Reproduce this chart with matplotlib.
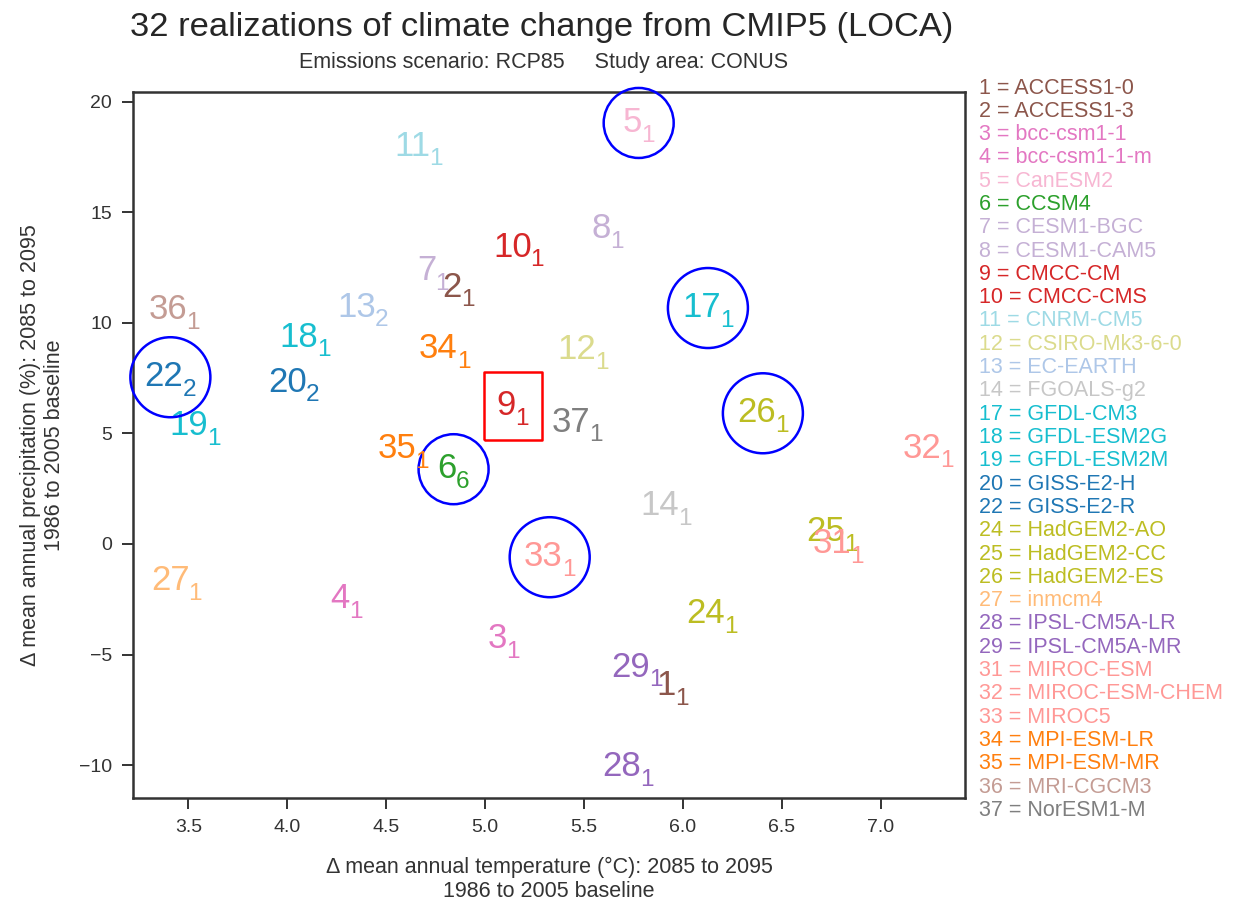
import matplotlib
matplotlib.use("Agg")
import matplotlib.pyplot as plt

plt.rcParams['font.family'] = ['Liberation Sans', 'DejaVu Sans']

# ---- data ----
model_ids = [1, 2, 3, 4, 5, 6, 7, 8, 9, 10, 11, 12, 13, 14, 17, 18, 19, 20, 22,
             24, 25, 26, 27, 28, 29, 31, 32, 33, 34, 35, 36, 37]
model_names = ["ACCESS1-0", "ACCESS1-3", "bcc-csm1-1", "bcc-csm1-1-m", "CanESM2",
               "CCSM4", "CESM1-BGC", "CESM1-CAM5", "CMCC-CM", "CMCC-CMS",
               "CNRM-CM5", "CSIRO-Mk3-6-0", "EC-EARTH", "FGOALS-g2", "GFDL-CM3",
               "GFDL-ESM2G", "GFDL-ESM2M", "GISS-E2-H", "GISS-E2-R", "HadGEM2-AO",
               "HadGEM2-CC", "HadGEM2-ES", "inmcm4", "IPSL-CM5A-LR", "IPSL-CM5A-MR",
               "MIROC-ESM", "MIROC-ESM-CHEM", "MIROC5", "MPI-ESM-LR", "MPI-ESM-MR",
               "MRI-CGCM3", "NorESM1-M"]
realization = [1, 1, 1, 1, 1, 6, 1, 1, 1, 1, 1, 1, 2, 1, 1, 1, 1, 2, 2,
               1, 1, 1, 1, 1, 1, 1, 1, 1, 1, 1, 1, 1]
delta_temp = [5.949, 4.866, 5.094, 4.300, 5.777, 4.841, 4.737, 5.620, 5.140, 5.170,
              4.659, 5.494, 4.383, 5.914, 6.127, 4.092, 3.535, 4.034, 3.409,
              6.149, 6.754, 6.405, 3.439, 5.724, 5.770, 6.787, 7.242, 5.327,
              4.796, 4.586, 3.429, 5.464]
delta_precip = [-6.44, 11.59, -4.31, -2.50, 19.04, 3.38, 12.34, 14.24, 6.23, 13.40,
                17.97, 8.76, 10.69, 1.71, 10.67, 9.33, 5.33, 7.29, 7.54,
                -3.18, 0.53, 5.91, -1.69, -10.10, -5.60, -0.01, 4.31, -0.60,
                8.81, 4.29, 10.57, 5.48]
colors = ["#8c564b", "#8c564b", "#e377c2", "#e377c2", "#f7b6d2", "#2ca02c",
          "#c5b0d5", "#c5b0d5", "#d62728", "#d62728", "#9edae5", "#dbdb8d",
          "#aec7e8", "#c7c7c7", "#17becf", "#17becf", "#17becf", "#1f77b4",
          "#1f77b4", "#bcbd22", "#bcbd22", "#bcbd22", "#ffbb78", "#9467bd",
          "#9467bd", "#ff9896", "#ff9896", "#ff9896", "#ff7f0e", "#ff7f0e",
          "#c49c94", "#7f7f7f"]
circled = [5, 6, 17, 22, 26, 33]
boxed = [9]

x_ticks = [3.5, 4.0, 4.5, 5.0, 5.5, 6.0, 6.5, 7.0]
y_ticks = [-10, -5, 0, 5, 10, 15, 20]

title = "32 realizations of climate change from CMIP5 (LOCA)"
subtitle = "Emissions scenario: RCP85     Study area: CONUS"
xlabel = "\u0394 mean annual temperature (\u00b0C): 2085 to 2095\n1986 to 2005 baseline"
ylabel = "\u0394 mean annual precipitation (%): 2085 to 2095\n1986 to 2005 baseline"

# ---- figure ----
W, H = 1233, 905
fig = plt.figure(figsize=(W / 100, H / 100), dpi=100)
ax = fig.add_axes([133 / W, 1 - 798 / H, (965 - 133) / W, (798 - 92) / H])

txtcol = "#333333"
FS_MAIN = 25.0
FS_SUB = 17.6
DIGIT = 0.556          # advance of a digit, in em
GAP = -0.8             # points between number and subscript
CAP = 0.716 * FS_MAIN  # cap height of main number, points
DROP = 7.0             # subscript baseline drop, points
base_dy = -(CAP - DROP) / 2.0 - 1.0

for mid, t, p, c, r in zip(model_ids, delta_temp, delta_precip, colors, realization):
    m, s = str(mid), str(r)
    wm = len(m) * DIGIT * FS_MAIN
    ws = len(s) * DIGIT * FS_SUB
    d = (wm - ws - GAP) / 2.0
    ax.annotate(m, xy=(t, p), xycoords='data', xytext=(d, base_dy),
                textcoords='offset points', ha='right', va='baseline',
                color=c, fontsize=FS_MAIN, annotation_clip=False)
    ax.annotate(s, xy=(t, p), xycoords='data', xytext=(d + GAP, base_dy - DROP),
                textcoords='offset points', ha='left', va='baseline',
                color=c, fontsize=FS_SUB, annotation_clip=False)
    if mid in circled:
        diam = (50 + 10 * len(m + s)) * 0.72
        ax.scatter([t], [p], s=diam ** 2, marker='o', facecolors='none',
                   edgecolors='#0000ff', linewidths=1.8, clip_on=False, zorder=3)
    if mid in boxed:
        rect = [(-29, -34), (29, -34), (29, 34), (-29, 34), (-29, -34)]
        ax.scatter([t], [p], s=(68 * 0.72) ** 2, marker=rect, facecolors='none',
                   edgecolors='#ff0000', linewidths=1.8, clip_on=False, zorder=3)

ax.set_xlim(3.22, 7.427)
ax.set_ylim(-11.49, 20.44)
ax.set_xticks(x_ticks)
ax.set_xticklabels(["%.1f" % v for v in x_ticks])
ax.set_yticks(y_ticks)
ax.set_yticklabels([("\u2212%d" % -v) if v < 0 else "%d" % v for v in y_ticks])
ax.tick_params(axis='both', direction='out', length=8, width=1.4,
               color=txtcol, labelcolor=txtcol, labelsize=14, pad=7)
for sp in ax.spines.values():
    sp.set_linewidth(1.8)
    sp.set_color(txtcol)

ax.set_xlabel(xlabel, fontsize=15.5, color=txtcol, labelpad=15)
ax.set_ylabel(ylabel, fontsize=15.5, color=txtcol, labelpad=10)

fig.text(542 / W, 1 - 36 / H, title, fontsize=24.8, color="#262626",
         ha='center', va='baseline')
fig.text(544 / W, 1 - 68 / H, subtitle, fontsize=15.5, color=txtcol,
         ha='center', va='baseline')

for i, (mid, name, c) in enumerate(zip(model_ids, model_names, colors)):
    fig.text(979 / W, 1 - (88 + i * 23.3) / H, "%d = %s" % (mid, name),
             color=c, fontsize=15.5, ha='left', va='center')

fig.savefig("out.png", dpi=100)
